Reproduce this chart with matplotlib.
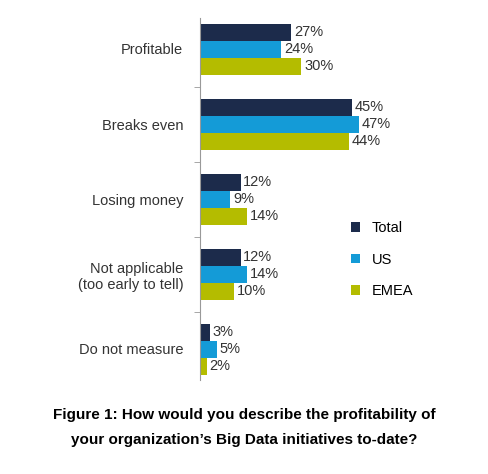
import matplotlib
matplotlib.use("Agg")
import matplotlib.pyplot as plt
import numpy as np

plt.rcParams["font.family"] = ["Liberation Sans", "DejaVu Sans"]

categories = ["Profitable", "Breaks even", "Losing money",
              "Not applicable\n(too early to tell)", "Do not measure"]
total = [27, 45, 12, 12, 3]
us = [24, 47, 9, 14, 5]
emea = [30, 44, 14, 10, 2]
series = [("Total", total, "#1c2b4b"), ("US", us, "#149bd7"), ("EMEA", emea, "#b4bc00")]

W, H = 489, 474
fig = plt.figure(figsize=(W / 100, H / 100), dpi=100)
ax = fig.add_axes([200 / W, 1 - 380 / H, 240 / W, 362 / H])

centers = np.arange(len(categories)) * 75.0
bh = 17
for i, (name, vals, col) in enumerate(series):
    y = centers + (i - 1) * bh
    ax.barh(y, vals, height=bh, color=col, label=name)
    for yy, v in zip(y, vals):
        ax.text(v + 0.8, yy, "%d%%" % v, va="center", ha="left", fontsize=10.5, color="#333333")

ax.set_ylim(centers[-1] + 31, centers[0] - 31)
ax.set_xlim(0, 71)
ax.set_yticks(centers)
ax.set_yticklabels(categories, fontsize=10.5, color="#333333")
ax.set_xticks([])
for s in ["top", "right", "bottom"]:
    ax.spines[s].set_visible(False)
ax.spines["left"].set_color("#999999")
ax.tick_params(axis="y", length=0, pad=12)
ax.set_yticks(list(centers[:-1] + 37.5), minor=True)
ax.tick_params(axis="y", which="minor", length=4, color="#999999", direction="out")

ax.legend(loc="upper left", bbox_to_anchor=(138 / 240, 1 - 190 / 362), frameon=False,
          fontsize=10.5, handlelength=0.6, handleheight=0.6, labelspacing=1.2)

fig.text(0.5, 1 - 415 / H, "Figure 1: How would you describe the profitability of",
         ha="center", va="center", fontsize=11, fontweight="bold")
fig.text(0.5, 1 - 440 / H, "your organization\u2019s Big Data initiatives to-date?",
         ha="center", va="center", fontsize=11, fontweight="bold")

fig.savefig("out.png", dpi=100)
